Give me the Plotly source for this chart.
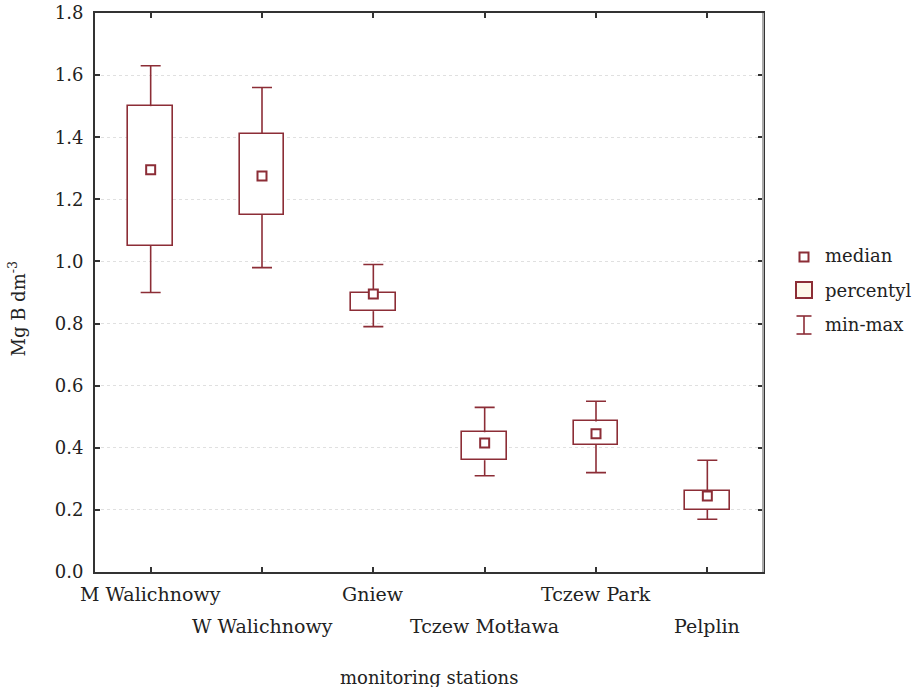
import plotly.graph_objects as go

stations = ["M Walichnowy", "W Walichnowy", "Gniew", "Tczew Motława", "Tczew Park", "Pelplin"]
v_min = [0.90, 0.98, 0.79, 0.31, 0.32, 0.17]
v_q1 = [1.05, 1.15, 0.84, 0.36, 0.41, 0.20]
v_med = [1.295, 1.275, 0.895, 0.415, 0.445, 0.245]
v_q3 = [1.50, 1.41, 0.90, 0.45, 0.485, 0.26]
v_max = [1.63, 1.56, 0.99, 0.53, 0.55, 0.36]
y_ticks = [0.0, 0.2, 0.4, 0.6, 0.8, 1.0, 1.2, 1.4, 1.6, 1.8]
legend_labels = ["median", "percentyl", "min-max"]

RED = "#8c2d36"
FONT = "DejaVu Serif"
W, H = 919, 687
ML, MR, MT, MB = 95, 156, 13, 115
PW, PH = W - ML - MR, H - MT - MB

def px(x):
    return (x - ML) / PW

def py(y):
    return (H - MB - y) / PH

xs = list(range(len(stations)))

# whisker segments built from the data arrays
wx, wy = [], []
for i in xs:
    wx += [i, i, None, i, i, None]
    wy += [v_q3[i], v_max[i], None, v_min[i], v_q1[i], None]

fig = go.Figure()
fig.add_trace(go.Scatter(x=wx, y=wy, mode="lines", line=dict(color=RED, width=1.6),
                         showlegend=False, hoverinfo="skip"))
fig.add_trace(go.Bar(
    x=xs, y=[b - a for a, b in zip(v_q1, v_q3)], base=v_q1, width=0.4,
    marker=dict(color="white", line=dict(color=RED, width=1.6)),
    showlegend=False, hoverinfo="skip"))
for arr in (v_max, v_min):
    fig.add_trace(go.Scatter(
        x=xs, y=arr, mode="markers", marker=dict(size=1, opacity=0),
        error_y=dict(type="data", array=[0] * len(xs), color=RED, thickness=1.6, width=10),
        showlegend=False, hoverinfo="skip"))
fig.add_trace(go.Scatter(
    x=xs, y=v_med, mode="markers",
    marker=dict(symbol="square", size=9, color="white", line=dict(color=RED, width=2)),
    showlegend=False))

annotations = []
for i, name in enumerate(stations):
    row = i % 2
    annotations.append(dict(x=i, xref="x", y=0, yref="paper", text=name, showarrow=False,
                            yanchor="middle", yshift=-22 - 32 * row,
                            font=dict(family=FONT, size=19, color="#222")))
annotations.append(dict(x=0.5, xref="paper", y=0, yref="paper", text="monitoring stations",
                        showarrow=False, yanchor="middle", yshift=-105,
                        font=dict(family=FONT, size=18, color="#222")))
annotations.append(dict(x=0, xref="paper", y=0.5, yref="paper", text="Mg B dm<sup>-3</sup>",
                        showarrow=False, xanchor="center", yanchor="middle", xshift=-78, yshift=-16,
                        textangle=-90, font=dict(family=FONT, size=18, color="#222")))

shapes = []
shapes.append(dict(type="line", xref="paper", yref="paper", x0=1, x1=1, y0=0, y1=1,
                   line=dict(color="#aaaaaa", width=2), layer="above"))
lx = 804
shapes.append(dict(type="rect", xref="paper", yref="paper",
                   x0=px(lx - 4.5), x1=px(lx + 4.5), y0=py(257 + 4.5), y1=py(257 - 4.5),
                   line=dict(color=RED, width=2), fillcolor="white"))
shapes.append(dict(type="rect", xref="paper", yref="paper",
                   x0=px(lx - 8), x1=px(lx + 8), y0=py(290 + 8), y1=py(290 - 8),
                   line=dict(color=RED, width=2), fillcolor="#fdf8ea"))
shapes.append(dict(type="line", xref="paper", yref="paper", x0=px(lx), x1=px(lx),
                   y0=py(334), y1=py(316), line=dict(color=RED, width=1.6)))
for yy in (316, 334):
    shapes.append(dict(type="line", xref="paper", yref="paper", x0=px(lx - 7.5), x1=px(lx + 7.5),
                       y0=py(yy), y1=py(yy), line=dict(color=RED, width=1.6)))
for label, yy in zip(legend_labels, (256, 290, 324)):
    annotations.append(dict(x=px(823), xref="paper", y=py(yy), yref="paper", text=label,
                            showarrow=False, xanchor="left", yanchor="middle",
                            font=dict(family=FONT, size=18, color="#222")))

fig.update_layout(
    width=W, height=H, margin=dict(l=ML, r=MR, t=MT, b=MB, autoexpand=False),
    paper_bgcolor="white", plot_bgcolor="white", showlegend=False,
    font=dict(family=FONT, size=18, color="#222"),
    annotations=annotations, shapes=shapes, bargap=0,
    xaxis=dict(range=[-0.5, len(stations) - 0.5], tickvals=xs, showticklabels=False,
               ticks="inside", ticklen=5, tickwidth=1.5, tickcolor="#333",
               showline=True, linecolor="#333", linewidth=2, mirror="allticks",
               showgrid=False, zeroline=False, fixedrange=True, automargin=False),
    yaxis=dict(range=[0, 1.8], tickvals=y_ticks, tickformat=".1f",
               ticks="inside", ticklen=5, tickwidth=1.5, tickcolor="#333",
               showline=True, linecolor="#333", linewidth=2, mirror="allticks",
               showgrid=True, gridcolor="#e0e0e0", griddash="dot", gridwidth=1,
               zeroline=False, ticklabelstandoff=6, automargin=False,
               tickfont=dict(family=FONT, size=18, color="#222")),
)

fig.write_html("out.html", config={"displayModeBar": False},
               post_script="document.body.style.margin='0';document.body.style.overflow='hidden';")
